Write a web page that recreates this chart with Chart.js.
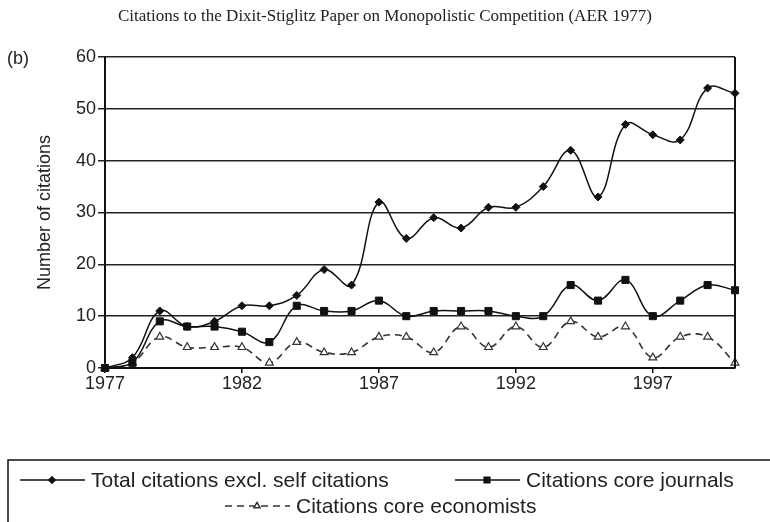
<!DOCTYPE html>
<html lang="en">
<head>
<meta charset="UTF-8">
<title>Citations to the Dixit-Stiglitz Paper</title>
<script src="https://cdn.jsdelivr.net/npm/chart.js"></script>
<style>
  body { margin: 0; background: #fff; }
  #wrap { width: 770px; height: 522px; position: relative; }
</style>
</head>
<body>
<div id="wrap"><canvas id="citeChart"></canvas></div>
<script>
// data
const years = ['1977','1978','1979','1980','1981','1982','1983','1984','1985','1986','1987','1988',
               '1989','1990','1991','1992','1993','1994','1995','1996','1997','1998','1999','2000'];
const totalCitations = [0, 2, 11, 8, 9, 12, 12, 14, 19, 16, 32, 25, 29, 27, 31, 31, 35, 42, 33, 47, 45, 44, 54, 53];
const coreJournals   = [0, 1, 9, 8, 8, 7, 5, 12, 11, 11, 13, 10, 11, 11, 11, 10, 10, 16, 13, 17, 10, 13, 16, 15];
const coreEconomists = [0, 1, 6, 4, 4, 4, 1, 5, 3, 3, 6, 6, 3, 8, 4, 8, 4, 9, 6, 8, 2, 6, 6, 1];
const seriesNames = ['Total citations excl. self citations', 'Citations core journals', 'Citations core economists'];
const yTicks = [0, 10, 20, 30, 40, 50, 60];

const chartTitle = 'Citations to the Dixit-Stiglitz Paper on Monopolistic Competition (AER 1977)';
const sans = '"Liberation Sans", Arial, sans-serif';

// title, panel tag, plot frame and the boxed legend underneath
const extras = {
    id: 'extras',
    afterDraw(chart) {
        const ctx = chart.ctx;
        const area = chart.chartArea;
        ctx.save();

        ctx.fillStyle = '#222';
        ctx.font = '17px "Liberation Serif", "Times New Roman", serif';
        ctx.textAlign = 'center';
        ctx.textBaseline = 'middle';
        ctx.fillText(chartTitle, 385, 17);

        ctx.font = '18px ' + sans;
        ctx.textAlign = 'left';
        ctx.fillText('(b)', 7, 59);

        // right side of the plot frame
        ctx.strokeStyle = '#111';
        ctx.lineWidth = 2;
        ctx.beginPath();
        ctx.moveTo(area.right, area.top);
        ctx.lineTo(area.right, area.bottom);
        ctx.stroke();

        // legend box (runs off the right edge like the original)
        ctx.lineWidth = 1.5;
        ctx.strokeRect(8, 460, 800, 100);

        const ds = chart.data.datasets;
        const items = [
            { x: 20, y: 480, d: ds[0] },
            { x: 455, y: 480, d: ds[1] },
            { x: 225, y: 506, d: ds[2] }
        ];
        items.forEach(it => {
            ctx.save();
            ctx.strokeStyle = it.d.borderColor;
            ctx.lineWidth = 1.5;
            ctx.setLineDash(it.d.borderDash || []);
            ctx.beginPath();
            ctx.moveTo(it.x, it.y);
            ctx.lineTo(it.x + 65, it.y);
            ctx.stroke();
            ctx.restore();
            ctx.fillStyle = it.d.backgroundColor;
            ctx.strokeStyle = it.d.borderColor;
            Chart.helpers.drawPoint(ctx, {
                pointStyle: it.d.pointStyle,
                radius: it.d.pointRadius * 0.8,
                rotation: 0,
                borderWidth: 1
            }, it.x + 32, it.y);
            ctx.fillStyle = '#222';
            ctx.font = '21px ' + sans;
            ctx.textAlign = 'left';
            ctx.textBaseline = 'middle';
            ctx.fillText(it.d.label, it.x + 71, it.y + 1);
        });
        ctx.restore();
    }
};

const ctx = document.getElementById('citeChart').getContext('2d');
const chart = new Chart(ctx, {
    type: 'line',
    data: {
        labels: years,
        datasets: [{
            label: seriesNames[0],
            data: totalCitations,
            borderColor: '#111',
            backgroundColor: '#111',
            borderWidth: 1.5,
            pointStyle: 'rectRot',
            pointRadius: 4,
            pointBorderWidth: 1,
            tension: 0.4
        }, {
            label: seriesNames[1],
            data: coreJournals,
            borderColor: '#111',
            backgroundColor: '#111',
            borderWidth: 1.5,
            pointStyle: 'rect',
            pointRadius: 5,
            pointBorderWidth: 1,
            tension: 0.4
        }, {
            label: seriesNames[2],
            data: coreEconomists,
            borderColor: '#333',
            backgroundColor: '#fff',
            borderWidth: 1.6,
            borderDash: [7, 5],
            pointStyle: 'triangle',
            pointRadius: 4.5,
            pointBorderWidth: 1.2,
            tension: 0.4
        }]
    },
    options: {
        responsive: true,
        maintainAspectRatio: false,
        animation: false,
        clip: false,
        layout: { padding: { left: 0, right: 35, top: 57, bottom: 0 } },
        plugins: {
            legend: { display: false },
            title: { display: false },
            tooltip: { enabled: false }
        },
        scales: {
            x: {
                offset: false,
                afterFit: s => { s.height = 154; },
                border: { color: '#111', width: 2 },
                grid: {
                    drawOnChartArea: false,
                    drawTicks: true,
                    tickLength: 5,
                    color: c => (c.index % 5 === 0 ? '#111' : 'rgba(0,0,0,0)'),
                    lineWidth: 1.5
                },
                ticks: {
                    autoSkip: false,
                    maxRotation: 0,
                    padding: 0,
                    color: '#222',
                    font: { family: sans, size: 18 },
                    callback: function (v, i) { return i % 5 === 0 ? this.getLabelForValue(v) : ''; }
                }
            },
            y: {
                min: 0,
                max: 60,
                afterFit: s => { s.width = 105; },
                afterBuildTicks: s => { s.ticks = yTicks.map(v => ({ value: v })); },
                border: { color: '#111', width: 2 },
                grid: {
                    color: '#222',
                    lineWidth: 1.5,
                    tickLength: 7
                },
                ticks: {
                    padding: 2,
                    color: '#222',
                    font: { family: sans, size: 18 }
                },
                title: {
                    display: true,
                    text: 'Number of citations',
                    color: '#222',
                    padding: { top: 34, bottom: 0 },
                    font: { family: sans, size: 18 }
                }
            }
        }
    },
    plugins: [extras]
});
</script>
</body>
</html>
